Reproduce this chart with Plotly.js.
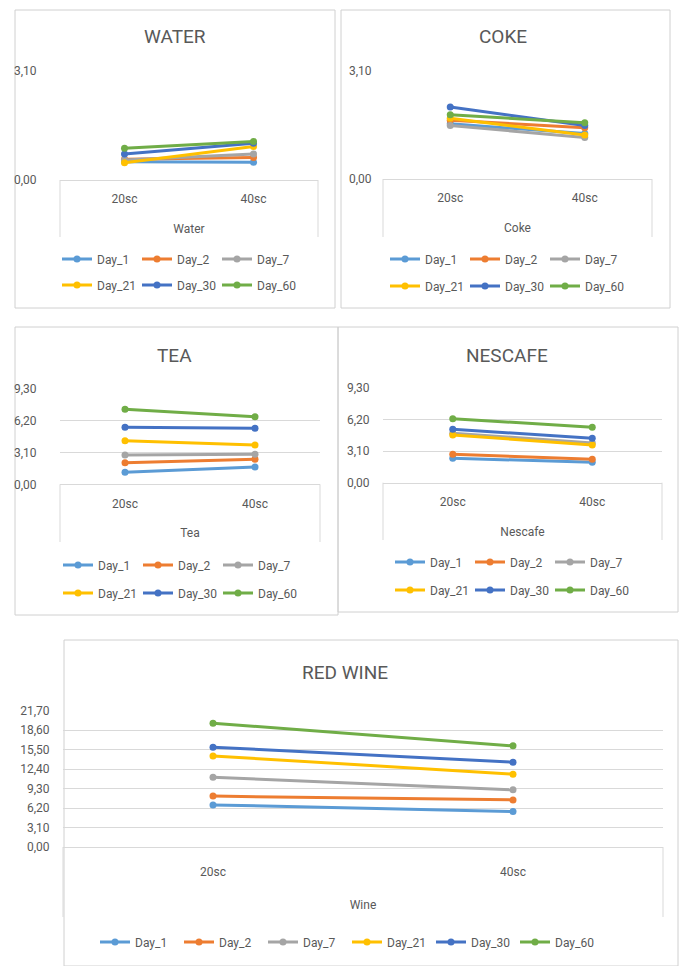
<!DOCTYPE html>
<html><head><meta charset="utf-8">
<script src="https://cdn.plot.ly/plotly-3.0.1.min.js"></script>
<style>html,body{margin:0;padding:0;background:#fff}</style>
</head><body><div id="chart" style="width:680px;height:966px"></div>
<script>
// ---- data ----
const categories = ['20sc', '40sc'];
const seriesNames = ['Day_1', 'Day_2', 'Day_7', 'Day_21', 'Day_30', 'Day_60'];
const panelTitles = ['WATER', 'COKE', 'TEA', 'NESCAFE', 'RED WINE'];
const axisTitles = ['Water', 'Coke', 'Tea', 'Nescafe', 'Wine'];
// values per series: [20sc, 40sc]
const waterValues = [[0.52, 0.50], [0.59, 0.64], [0.57, 0.74], [0.49, 0.95], [0.74, 1.04], [0.90, 1.09]];
const cokeValues = [[1.58, 1.30], [1.68, 1.47], [1.53, 1.19], [1.74, 1.26], [2.06, 1.53], [1.84, 1.61]];
const teaValues = [[1.16, 1.68], [2.09, 2.42], [2.84, 2.91], [4.22, 3.81], [5.52, 5.43], [7.27, 6.55]];
const nescafeValues = [[2.39, 2.00], [2.78, 2.29], [4.85, 3.88], [4.67, 3.70], [5.23, 4.35], [6.27, 5.43]];
const wineValues = [[6.7, 5.65], [8.1, 7.5], [11.1, 9.1], [14.5, 11.6], [15.9, 13.5], [19.7, 16.1]];
const smallTicks = [0, 3.1];
const midTicks = [0, 3.1, 6.2, 9.3];
const wineTicks = [0, 3.1, 6.2, 9.3, 12.4, 15.5, 18.6, 21.7];

// ---- styling / layout ----
const colors = ['#5B9BD5', '#ED7D31', '#A5A5A5', '#FFC000', '#4472C4', '#70AD47'];
const W = 680, H = 966;
const fx = x => x / W, fy = y => 1 - y / H;
const FONT = 'Roboto, sans-serif';
const TXT = '#595959';
const GRID = '#D9D9D9';

const panelData = [waterValues, cokeValues, teaValues, nescafeValues, wineValues];
const panelTicks = [smallTicks, smallTicks, midTicks, midTicks, wineTicks];
// geometry in pixels
const geo = [
  {box: [15, 10, 335, 308], plot: [60, 70.7, 318, 180], boxBottom: 237, titleXY: [175, 37], ylen: 20, xlen: 8, standoff: 19, legends: [[57, 259], [57, 285]]},
  {box: [341, 10, 670, 308], plot: [383, 70.7, 652, 179], boxBottom: 237, titleXY: [503, 37], ylen: 8, xlen: 8, standoff: 19, legends: [[385, 259], [385, 286]]},
  {box: [15, 327, 338, 615], plot: [60, 388.3, 320, 484.3], boxBottom: 542, titleXY: [175, 355], ylen: 20, xlen: 8, standoff: 18, legends: [[58, 565], [58, 593]]},
  {box: [338, 327, 678, 612], plot: [383, 387.7, 662, 482.7], boxBottom: 540, titleXY: [507, 355], ylen: 10, xlen: 8, standoff: 19, legends: [[390, 562], [390, 590]]},
  {box: [64, 640, 678, 966], plot: [63, 710.7, 663, 847], boxBottom: 917, titleXY: [345, 672], ylen: 10, xlen: 14, standoff: 22, legends: [[95, 942]]}
];

const traces = [];
const layout = {
  width: W, height: H,
  margin: {l: 0, r: 0, t: 0, b: 0},
  paper_bgcolor: '#fff', plot_bgcolor: 'rgba(0,0,0,0)',
  separators: ',.',
  font: {family: FONT, color: TXT, size: 12},
  showlegend: true,
  shapes: [], annotations: []
};

let legendCount = 0;
geo.forEach((g, p) => {
  const sfx = p === 0 ? '' : String(p + 1);
  const xa = 'xaxis' + sfx, ya = 'yaxis' + sfx;
  const ticks = panelTicks[p];
  const ymax = ticks[ticks.length - 1];
  layout[xa] = {
    type: 'category', range: [-0.5, 1.5],
    domain: [fx(g.plot[0]), fx(g.plot[2])],
    anchor: 'y' + sfx,
    showline: true, linecolor: GRID, linewidth: 1,
    showgrid: false, zeroline: false,
    ticks: 'outside', ticklen: g.xlen, tickcolor: 'rgba(0,0,0,0)',
    tickfont: {family: FONT, color: TXT, size: 12},
    title: {text: axisTitles[p], font: {family: FONT, color: TXT, size: 12}, standoff: g.standoff},
    fixedrange: true
  };
  layout[ya] = {
    range: [0, ymax],
    domain: [fy(g.plot[3]), fy(g.plot[1])],
    anchor: 'x' + sfx,
    tickvals: ticks, tickformat: '.2f',
    showgrid: true, gridcolor: GRID, gridwidth: 1,
    zeroline: false, showline: false,
    ticks: 'outside', ticklen: g.ylen, tickcolor: 'rgba(0,0,0,0)',
    tickfont: {family: FONT, color: TXT, size: 12},
    fixedrange: true
  };
  // panel border
  layout.shapes.push({type: 'rect', xref: 'paper', yref: 'paper', layer: 'below',
    x0: fx(g.box[0]), x1: fx(g.box[2]), y0: fy(g.box[3]), y1: fy(g.box[1]),
    line: {color: '#D0D0D0', width: 1}});
  // category box sides
  [g.plot[0], g.plot[2]].forEach(px => {
    layout.shapes.push({type: 'line', xref: 'paper', yref: 'paper',
      x0: fx(px), x1: fx(px), y0: fy(g.plot[3]), y1: fy(g.boxBottom),
      line: {color: GRID, width: 1}});
  });
  // chart title
  layout.annotations.push({text: panelTitles[p], xref: 'paper', yref: 'paper',
    x: fx(g.titleXY[0]), y: fy(g.titleXY[1]), xanchor: 'center', yanchor: 'middle',
    showarrow: false, font: {family: FONT, size: 19, color: TXT}});
  // legends
  const legNames = [];
  g.legends.forEach((lp) => {
    legendCount += 1;
    const ln = legendCount === 1 ? 'legend' : 'legend' + legendCount;
    legNames.push(ln);
    layout[ln] = {
      orientation: 'h', x: fx(lp[0]), y: fy(lp[1]), xanchor: 'left', yanchor: 'middle',
      xref: 'paper', yref: 'paper',
      bgcolor: 'rgba(0,0,0,0)', borderwidth: 0,
      font: {family: FONT, color: TXT, size: 12},
      entrywidth: p === 4 ? 39 : 35, entrywidthmode: 'pixels',
      itemclick: false, itemdoubleclick: false
    };
  });
  panelData[p].forEach((vals, i) => {
    traces.push({
      type: 'scatter', mode: 'lines+markers',
      x: categories, y: vals,
      xaxis: 'x' + sfx, yaxis: 'y' + sfx,
      name: seriesNames[i],
      legend: legNames.length === 1 ? legNames[0] : legNames[i < 3 ? 0 : 1],
      line: {color: colors[i], width: 3},
      marker: {color: colors[i], size: 7},
      hoverinfo: 'skip'
    });
  });
});

Plotly.newPlot('chart', traces, layout, {staticPlot: true, displayModeBar: false});
</script>
</body></html>
